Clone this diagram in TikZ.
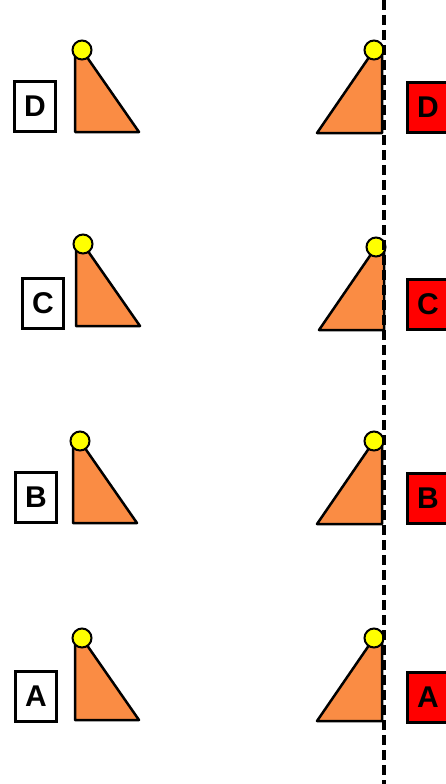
\documentclass[tikz,border=0pt]{standalone}
\usepackage{fontspec}
\setmainfont{Liberation Sans}
\usepackage{tikz}
\usetikzlibrary{positioning}
\definecolor{conefill}{RGB}{250,140,68}
\definecolor{tipfill}{RGB}{255,255,0}
\tikzstyle{cone}=[draw=black,fill=conefill,line width=2.5pt,line join=round]
\tikzstyle{tip}=[circle,draw=black,fill=tipfill,line width=2pt,minimum size=19pt,inner sep=0pt]
\tikzstyle{tag}=[draw=black,line width=3pt,minimum width=41pt,minimum height=50pt,inner sep=0pt,
  font=\fontsize{30}{30}\selectfont\bfseries,anchor=north west]

\begin{document}
\begin{tikzpicture}[x=1pt,y=-1pt]
\useasboundingbox (0,0) rectangle (445,784);

% letter / top y / left edge x / left tag x / tag y / right top y / right edge x
\foreach \l/\ly/\lvx/\tx/\ty/\ry/\rvx in {D/50/75/13/80/50/382, C/244/76/21/277/247/384,
                                          B/441/73/14/471/441/382, A/638/75/14/670/638/382}
{
  % left side
  \draw[cone] (\lvx,\ly) -- (\lvx,\ly+82) -- (\lvx+64,\ly+82) -- (\lvx+7,\ly) -- cycle;
  \node[tip] (tipL\l) at (\lvx+7,\ly) {};
  \node[tag,fill=white] (tagL\l) at (\tx,\ty) {\l};

  % right side
  \draw[cone] (\rvx,\ry) -- (\rvx,\ry+83) -- (\rvx-65,\ry+83) -- (\rvx-8,\ry) -- cycle;
  \node[tip] (tipR\l) at (\rvx-8,\ry) {};
  \node[tag,fill=red] (tagR\l) at (406,\ty+1) {\l};
}

% mirror line
\coordinate (mtop) at (384,0);
\coordinate (mbot) at (384,784);
\draw[line width=3.5pt,dash pattern=on 10pt off 5pt] (mtop) -- (mbot);

\end{tikzpicture}
\end{document}
